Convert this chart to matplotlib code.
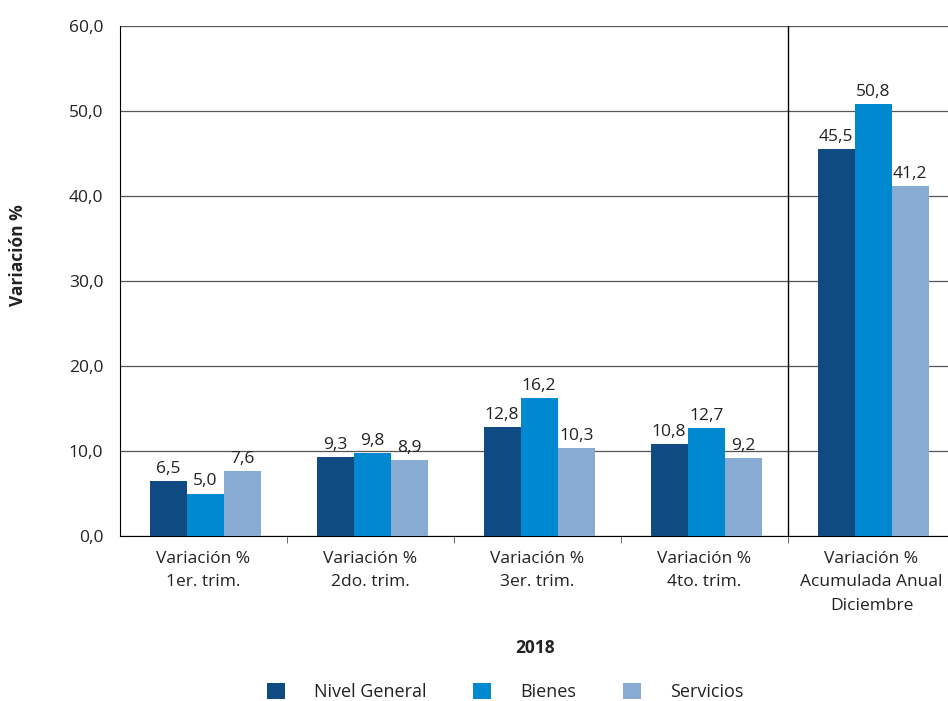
import matplotlib
matplotlib.use("Agg")
import matplotlib.pyplot as plt
import numpy as np
from matplotlib.patches import Patch

categories = ["Variación %\n1er. trim.", "Variación %\n2do. trim.", "Variación %\n3er. trim.",
              "Variación %\n4to. trim.", "Variación %\nAcumulada Anual\nDiciembre"]
series_names = ["Nivel General", "Bienes", "Servicios"]
nivel_general = [6.5, 9.3, 12.8, 10.8, 45.5]
bienes = [5.0, 9.8, 16.2, 12.7, 50.8]
servicios = [7.6, 8.9, 10.3, 9.2, 41.2]
yticks = [0, 10, 20, 30, 40, 50, 60]

colors = ["#104A82", "#0089D0", "#87ABD2"]
plt.rcParams['font.family'] = ['Open Sans', 'DejaVu Sans']
txt = "#222222"

fig = plt.figure(figsize=(9.48, 7.01), dpi=100)
ax = fig.add_axes([120/948, 1-536/701, 835/948, 510/701])

x = np.arange(len(categories))
w = 0.222
for i, (vals, c) in enumerate(zip([nivel_general, bienes, servicios], colors)):
    pos = x + (i - 1) * w + 0.01
    ax.bar(pos, vals, width=w, color=c, zorder=3)
    for p, v in zip(pos, vals):
        ax.annotate(f"{v:.1f}".replace(".", ","), (p, v), xytext=(0, 3), textcoords="offset points",
                    ha="center", va="bottom", fontsize=12.5, color=txt, zorder=4)

ax.set_xlim(-0.5, len(categories) - 0.5)
ax.set_ylim(0, 60)
ax.set_yticks(yticks)
ax.set_yticklabels([f"{t:.1f}".replace(".", ",") for t in yticks], fontsize=12.5, color=txt)
ax.yaxis.grid(True, color="#555555", linewidth=0.9, zorder=0)
ax.set_axisbelow(True)
ax.axvline(3.5, color="black", linewidth=1.0, zorder=2)

ax.set_xticks(x)
ax.set_xticklabels(categories, fontsize=12.5, color=txt, linespacing=1.6)
ax.tick_params(axis="x", length=0, pad=11)
ax.set_xticks(np.arange(0.5, len(categories) - 0.5, 1), minor=True)
ax.tick_params(axis="x", which="minor", length=5, color="#555555")
ax.tick_params(axis="y", length=0, pad=12)

for s in ["top", "right"]:
    ax.spines[s].set_visible(False)
ax.spines["left"].set_color("black")
ax.spines["bottom"].set_color("black")

fig.text(18/948, 1-255/701, "Variación %", rotation=90, ha="center", va="center",
         fontsize=12.5, fontweight="bold", color=txt)
fig.text(535/948, 1-648/701, "2018", ha="center", va="center", fontsize=12.5,
         fontweight="bold", color=txt)

handles = [Patch(facecolor=c) for c in colors]
fig.legend(handles, series_names, loc="center", bbox_to_anchor=(505/948, 1-692/701), ncol=3,
           frameon=False, fontsize=13, handlelength=1.0, handleheight=1.0, columnspacing=2.6,
           handletextpad=1.6, labelcolor=txt)

fig.savefig("out.png", dpi=100)
